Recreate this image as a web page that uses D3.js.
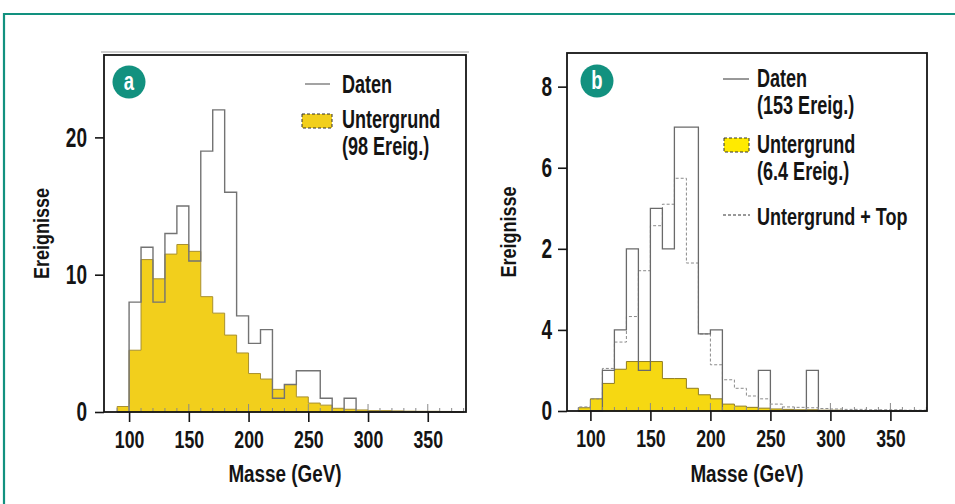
<!DOCTYPE html>
<html>
<head>
<meta charset="utf-8">
<script src="https://cdn.jsdelivr.net/npm/d3@7"></script>
<style>
body{margin:0;background:#fff;}
svg{display:block;}
text{font-family:"Liberation Sans Narrow","Liberation Sans",sans-serif;font-weight:bold;fill:#141414;}
</style>
</head>
<body>
<script>
(function(){

    //lower edges of the 10 GeV mass bins
    var binsA = [90,100,110,120,130,140,150,160,170,180,190,200,210,220,230,240,250,260,270,280,290,300,310,320,330,340,350,360,370];
    var dataA = [0,8,12,8,13,15,11,19,22,16,7,5,6,1,2,3,3,1,0,1,0,0,0,0,0,0,0,0,0]; //Daten
    var bgA = [0.4,4.5,11.1,9.7,11.5,12.2,11.7,8.4,7.2,5.6,4.3,2.8,2.4,1.65,2.0,1.1,0.65,0.5,0.27,0.2,0.15,0.1,0.1,0.08,0.06,0.05,0.05,0.04,0.03]; //Untergrund

    var binsB = [90,100,110,120,130,140,150,160,170,180,190,200,210,220,230,240,250,260,270,280,290,300,310,320,330,340,350,360,370];
    var dataB = [0,0,1,2,4,1,5,4,7,7,1.9,2,0,0,0,1,0,0,0,1,0,0,0,0,0,0,0,0,0]; //Daten
    var bgTopB = [0.1,0.3,1.05,1.7,2.33,3.46,4.57,5.1,5.74,3.65,1.9,1.14,0.77,0.56,0.37,0.3,0.17,0.1,0.09,0.08,0.06,0.05,0.04,0.04,0.03,0.03,0.03,0.02,0.02]; //Untergrund + Top
    var bgB = [0.08,0.3,0.68,1.03,1.22,1.22,1.22,0.8,0.8,0.56,0.4,0.3,0.17,0.12,0.09,0.07,0.05,0.04,0.03,0.03,0.02,0.02,0.01,0.01,0.01,0.01,0.01,0.01,0.01]; //Untergrund

    //axis ticks and labels
    var xTicks = [100,150,200,250,300,350];
    var yTicksA = [0,10,20];
    var yLabelsA = ["0","10","20"];
    var yTicksB = [0,2,4,6,8];
    var yLabelsB = ["0","4","2","6","8"]; //as printed in the original
    var xTitle = "Masse (GeV)";
    var yTitle = "Ereignisse";
    var legendA = [["Daten"],["Untergrund","(98 Ereig.)"]];
    var legendB = [["Daten","(153 Ereig.)"],["Untergrund","(6.4 Ereig.)"],["Untergrund + Top"]];

    var teal = "#12917f";

    window.onload = setChart();

function setChart(){
    var width = 955, height = 504;

    var svg = d3.select("body")
        .append("svg")
        .attr("width", width)
        .attr("height", height);

    //work out how wide the installed font is compared with a narrow face
    var probe = svg.append("text").style("font-size", "100px").text("0123456789");
    var k0 = 456 / probe.node().getComputedTextLength();
    probe.remove();

    //teal frame round the figure
    svg.append("path")
        .attr("d", "M4,504 V14 H955")
        .attr("fill", "none")
        .attr("stroke", teal)
        .attr("stroke-width", 2.2);

    var panelA = {left:104, right:466, top:55, bottom:412, xDom:[79,382], yDom:[0,26],
                  yTicks:yTicksA, yLabels:yLabelsA, tag:"a", cx:129, cy:82, yTitleX:49};
    var panelB = {left:567, right:927, top:53, bottom:411, xDom:[80.5,380.5], yDom:[0,8.83],
                  yTicks:yTicksB, yLabels:yLabelsB, tag:"b", cx:597, cy:81, yTitleX:516};

    //light gray double edge above the first frame
    svg.append("line")
        .attr("x1", 101).attr("x2", 469).attr("y1", 52).attr("y2", 52)
        .attr("stroke", "#cfcfcf").attr("stroke-width", 2);

    var pa = setPanel(svg, panelA);
    drawArea(pa, binsA, bgA, "#f2cf1c", "#a89030");
    drawStep(pa, binsA, dataA, "#737373", 1.4, null);
    finishPanel(pa, k0);

    var pb = setPanel(svg, panelB);
    drawArea(pb, binsB, bgB, "#f6d812", "#8f7c22");
    drawStep(pb, binsB, bgTopB, "#8a8a8a", 1, "3,2");
    drawStep(pb, binsB, dataB, "#6a6a6a", 1.3, null);
    finishPanel(pb, k0);

    //legend a
    var g = svg.append("g");
    g.append("line").attr("x1", 305).attr("x2", 330).attr("y1", 84).attr("y2", 84)
        .attr("stroke", "#666").attr("stroke-width", 1.2);
    legendText(g, 342, 93, legendA[0], k0, 25);
    g.append("rect").attr("x", 302).attr("y", 114).attr("width", 30).attr("height", 14)
        .attr("fill", "#f2cf1c").attr("stroke", "#333").attr("stroke-dasharray", "3,2");
    legendText(g, 342, 128, legendA[1], k0, 25);

    //legend b
    g.append("line").attr("x1", 723).attr("x2", 749).attr("y1", 79).attr("y2", 79)
        .attr("stroke", "#333").attr("stroke-width", 1);
    legendText(g, 757, 87, legendB[0], k0, 25);
    g.append("rect").attr("x", 724).attr("y", 138).attr("width", 25).attr("height", 14)
        .attr("fill", "#ffea00").attr("stroke", "#333").attr("stroke-dasharray", "3,2");
    legendText(g, 757, 153, legendB[1], k0, 25);
    g.append("line").attr("x1", 723).attr("x2", 750).attr("y1", 215).attr("y2", 215)
        .attr("stroke", "#333").attr("stroke-width", 1).attr("stroke-dasharray", "3,2");
    legendText(g, 757, 225, legendB[2], k0, 23); //long line, a bit smaller so it stays inside the frame
};

function setPanel(svg, p){
    var x = d3.scaleLinear().domain(p.xDom).range([p.left, p.right]);
    var y = d3.scaleLinear().domain(p.yDom).range([p.bottom, p.top]);
    var g = svg.append("g");
    return {svg:svg, g:g, x:x, y:y, p:p};
};

//filled histogram (background)
function drawArea(pn, bins, vals, fill, stroke){
    var pts = stepPoints(bins, vals);
    var area = d3.area()
        .x(function(d){ return pn.x(d[0]); })
        .y0(pn.y(0))
        .y1(function(d){ return pn.y(d[1]); })
        .curve(d3.curveStepAfter);
    pn.g.append("path")
        .attr("d", area(pts))
        .attr("fill", fill)
        .attr("stroke", stroke)
        .attr("stroke-width", 1);
};

//outline histogram
function drawStep(pn, bins, vals, color, w, dash){
    var pts = stepPoints(bins, vals);
    var line = d3.line()
        .x(function(d){ return pn.x(d[0]); })
        .y(function(d){ return pn.y(d[1]); })
        .curve(d3.curveStepAfter);
    pn.g.append("path")
        .attr("d", line(pts))
        .attr("fill", "none")
        .attr("stroke", color)
        .attr("stroke-width", w)
        .attr("stroke-dasharray", dash);
};

function stepPoints(bins, vals){
    var pts = [[bins[0], 0]];
    for (var i=0; i<bins.length; i++){
        pts.push([bins[i], vals[i]]);
    };
    var last = bins[bins.length-1] + (bins[1]-bins[0]);
    pts.push([last, vals[vals.length-1]]);
    pts.push([last, 0]);
    return pts;
};

function finishPanel(pn, k0){
    var p = pn.p, g = pn.g, x = pn.x, y = pn.y;

    //small inner ticks every 10 GeV, longer ones every 50 GeV
    var minor = [];
    for (var v=90; v<=380; v+=10){ minor.push(v); };
    g.selectAll(".minor")
        .data(minor)
        .enter()
        .append("line")
        .attr("x1", function(d){ return x(d); })
        .attr("x2", function(d){ return x(d); })
        .attr("y1", p.bottom)
        .attr("y2", function(d){ return p.bottom - (d % 50 == 0 ? 8 : 4); })
        .attr("stroke", "#8a8a8a")
        .attr("stroke-width", 1);

    //frame
    g.append("rect")
        .attr("x", p.left).attr("y", p.top)
        .attr("width", p.right - p.left).attr("height", p.bottom - p.top)
        .attr("fill", "none").attr("stroke", "#151515").attr("stroke-width", 1.8);

    var xAxis = g.append("g")
        .attr("transform", "translate(0," + p.bottom + ")")
        .call(d3.axisBottom(x).tickValues(xTicks).tickSize(10).tickPadding(9).tickFormat(d3.format("d")));
    var yAxis = g.append("g")
        .attr("transform", "translate(" + p.left + ",0)")
        .call(d3.axisLeft(y).tickValues(p.yTicks).tickSize(9).tickPadding(p.tag == "a" ? 8 : 6)
            .tickFormat(function(d, i){ return p.yLabels[i]; }));
    [xAxis, yAxis].forEach(function(ax){
        ax.select(".domain").remove();
        ax.selectAll(".tick line").attr("stroke", "#151515").attr("stroke-width", 1.6);
        ax.selectAll("text")
            .attr("fill", "#141414")
            .attr("font-family", null)
            .attr("font-size", null);
    });
    xAxis.selectAll("text").style("font-size", "24px");
    yAxis.selectAll("text").style("font-size", "27px");
    squeeze(xAxis.selectAll("text"), k0 * 0.9);
    squeeze(yAxis.selectAll("text"), k0 * 0.86);

    //axis titles
    var xt = g.append("text")
        .attr("x", (p.left + p.right) / 2)
        .attr("y", 482)
        .attr("text-anchor", "middle")
        .style("font-size", "23px")
        .text(xTitle);
    squeeze(xt, k0);
    var yt = g.append("text")
        .attr("transform", "translate(" + p.yTitleX + "," + ((p.top + p.bottom) / 2) + ") rotate(-90)")
        .attr("text-anchor", "middle")
        .style("font-size", "22px")
        .text(yTitle);
    squeeze(yt, k0);

    //panel letter
    g.append("circle")
        .attr("cx", p.cx).attr("cy", p.cy).attr("r", 16.5)
        .attr("fill", teal);
    var lt = g.append("text")
        .attr("x", p.cx).attr("y", p.cy + 8)
        .attr("text-anchor", "middle")
        .style("font-size", "25px")
        .style("fill", "#fff")
        .text(p.tag);
    squeeze(lt, k0 * 0.9);
};

function legendText(g, x, y, lines, k0, size){
    lines.forEach(function(s, i){
        var t = g.append("text")
            .attr("x", x)
            .attr("y", y + i * 26.5)
            .style("font-size", size + "px")
            .text(s);
        squeeze(t, k0 * 0.88 * 25 / size);
    });
};

//condense text horizontally to the narrow look of the original lettering
function squeeze(sel, k){
    sel.each(function(){
        var w = this.getComputedTextLength();
        d3.select(this)
            .attr("textLength", w * k)
            .attr("lengthAdjust", "spacingAndGlyphs");
    });
};

})();
</script>
</body>
</html>
